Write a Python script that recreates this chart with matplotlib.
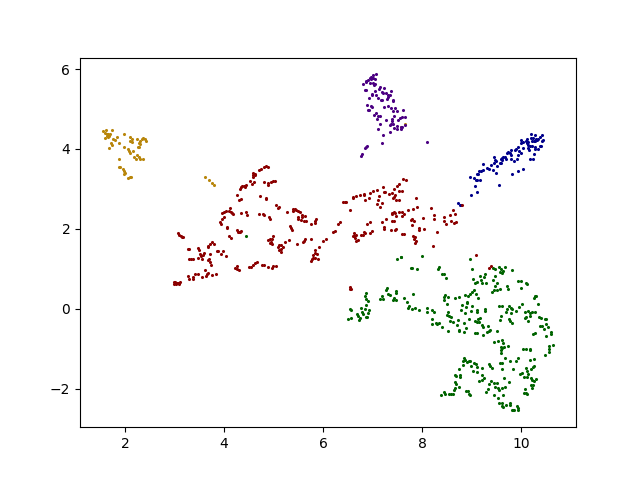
import matplotlib
matplotlib.use('Agg')
import matplotlib.pyplot as plt
import numpy as np

# Cluster colours
GOLD = 'darkgoldenrod'
RED = 'darkred'
GREEN = 'darkgreen'
BLUE = 'darkblue'
PURPLE = 'indigo'

gold_points = [
    (1.56,4.44),(1.62,4.48),(1.74,4.47),(1.60,4.41),(1.63,4.375),(1.66,4.375),(1.70,4.375),(1.64,4.33),
    (1.68,4.33),(1.59,4.275),(1.66,4.29),(1.97,4.37),(2.09,4.29),(2.15,4.26),(2.11,4.21),(2.15,4.17),
    (2.25,4.24),(2.34,4.24),(2.37,4.27),(2.40,4.24),(2.42,4.19),(2.30,4.19),(2.28,4.14),(2.30,4.125),
    (2.26,4.04),(2.29,4.06),(1.83,4.29),(1.75,4.24),(1.80,4.22),(1.71,4.16),(1.73,4.10),(1.87,4.14),
    (1.68,4.02),(1.97,4.04),(2.05,3.99),(2.08,3.94),(2.11,3.89),(2.17,3.94),(2.19,3.81),(2.25,3.84),
    (2.29,3.79),(2.23,3.74),(2.30,3.74),(2.37,3.74),(1.87,3.76),(1.87,3.54),(1.90,3.54),(1.95,3.51),
    (1.97,3.44),(2.00,3.39),(1.97,3.37),(2.09,3.31),(2.13,3.31),(2.05,3.27),
    (3.62,3.29),(3.69,3.22),(3.75,3.14),(3.79,3.09),(7.57,4.54),(7.65,4.62),
]

red_points = [
    (4.84,3.575),(4.80,3.56),(4.88,3.54),(4.755,3.50),(4.71,3.475),(4.59,3.41),(4.62,3.375),(4.58,3.34),
    (4.63,3.36),(4.59,3.31),(4.53,3.20),(4.61,3.17),(4.57,3.125),(4.81,3.17),(4.89,3.16),(4.94,3.175),
    (4.997,3.19),(5.03,3.20),(4.89,3.09),(4.45,3.09),(4.41,3.075),(4.37,3.075),(4.42,3.04),(4.34,3.04),
    (4.32,2.99),(4.27,2.85),(4.30,2.725),(4.34,2.74),(4.73,2.82),(4.85,2.78),(4.85,2.76),(5.05,2.60),
    (5.11,2.56),(5.09,2.53),(5.27,2.425),(5.39,2.51),(5.43,2.49),(5.39,2.46),(5.45,2.475),(5.49,2.46),
    (5.53,2.43),(5.49,2.31),(5.57,2.34),(5.64,2.32),(5.49,2.26),(5.57,2.29),(5.56,2.22),(5.61,2.21),
    (5.66,2.19),(5.76,2.125),(5.86,2.24),(5.84,2.19),(5.83,2.14),(4.13,2.52),(4.11,2.46),(4.14,2.43),
    (4.16,2.39),(4.19,2.375),(4.03,2.46),(3.99,2.42),(3.95,2.39),(4.345,2.39),(4.45,2.425),(4.47,2.34),
    (4.71,2.375),(4.79,2.375),(4.80,2.34),(4.91,2.31),(4.93,2.26),(4.00,2.31),(3.96,2.26),(3.92,2.175),
    (3.94,2.125),(4.06,2.06),(4.06,2.03),(4.26,1.97),(4.28,1.925),(4.32,1.93),(4.34,1.94),(4.30,1.92),
    (4.10,1.825),(4.14,1.77),(5.34,2.075),(5.36,2.025),(5.38,1.98),(3.06,1.90),(3.10,1.86),(3.13,1.82),
    (3.16,1.79),(3.18,1.79),(4.99,1.82),(4.88,1.725),(4.92,1.76),(4.96,1.74),(4.94,1.68),(4.92,1.66),
    (4.96,1.625),(5.12,1.61),(5.16,1.59),(5.10,1.54),(5.19,1.54),(5.16,1.51),(5.12,1.475),(5.15,1.42),
    (5.24,1.675),(5.31,1.725),(5.48,1.62),(5.63,1.76),(5.61,1.70),(5.59,1.67),(5.76,1.74),(5.92,1.54),
    (6.00,1.70),(6.06,1.74),(6.20,1.925),(3.75,1.675),(3.79,1.625),(3.72,1.625),(3.68,1.575),(3.67,1.56),
    (3.28,1.51),(3.29,1.49),(3.48,1.52),(3.50,1.475),(3.60,1.39),(3.57,1.35),(3.51,1.37),(3.53,1.325),
    (3.85,1.46),(3.88,1.46),(3.98,1.44),(3.94,1.38),(3.72,1.37),(4.04,1.32),(3.29,1.25),(3.33,1.26),
    (3.38,1.24),(3.48,1.28),(3.55,1.24),(3.67,1.225),(3.69,1.25),(3.72,1.18),(3.73,1.11),(5.84,1.475),
    (5.83,1.39),(5.88,1.375),(5.80,1.35),(5.79,1.28),(5.78,1.24),(5.76,1.21),(5.83,1.265),(5.89,1.26),
    (4.80,1.11),(4.77,1.11),(4.63,1.16),(4.67,1.175),(4.59,1.10),(4.54,1.06),(4.51,1.04),(4.88,1.06),
    (4.96,1.02),(4.997,1.07),(5.04,1.07),(4.27,1.075),(4.22,1.02),(4.26,1.01),(4.30,0.97),(3.62,0.97),
    (3.68,0.91),(3.66,0.875),(3.63,0.825),(3.75,0.86),(3.83,0.87),(3.41,0.87),(3.48,0.87),(3.28,0.825),
    (3.29,0.76),(3.37,0.81),(3.37,0.76),(3.56,0.79),(3.01,0.68),(3.04,0.66),(3.07,0.66),(3.12,0.67),
    (2.99,0.625),(3.03,0.625),(3.09,0.625),(2.99,0.67),
    # right-hand part of the red cluster
    (7.61,3.24),(7.67,3.22),(7.53,3.12),(7.50,3.07),(7.21,3.04),(7.43,2.99),(7.09,2.97),(7.01,2.94),
    (6.95,2.89),(6.83,2.87),(6.83,2.84),(6.74,2.84),(6.66,2.82),(6.60,2.79),(6.60,2.77),(7.23,2.92),
    (7.26,2.92),(7.33,2.87),(7.39,2.89),(7.13,2.82),(7.53,2.94),(7.59,2.94),(7.46,2.84),(7.43,2.81),
    (7.41,2.78),(6.93,2.77),(6.85,2.72),(7.11,2.72),(7.47,2.72),(7.53,2.72),(7.87,2.77),(7.19,2.64),
    (7.09,2.62),(7.15,2.54),(6.40,2.67),(6.45,2.67),(6.47,2.67),(6.54,2.47),(7.89,2.54),(7.81,2.49),
    (7.71,2.47),(8.18,2.52),(8.62,2.47),(8.66,2.37),(8.56,2.34),(8.44,2.31),(8.24,2.34),(8.24,2.24),
    (8.44,2.21),(8.58,2.21),(8.02,2.27),(7.53,2.43),(7.43,2.43),(7.39,2.41),(7.45,2.39),(7.39,2.37),
    (7.47,2.32),(7.59,2.42),(7.63,2.37),(7.59,2.32),(7.27,2.24),(7.19,2.17),(7.39,2.19),(7.43,2.19),
    (7.79,2.24),(7.77,2.22),(7.83,2.19),(6.95,2.17),(6.89,2.12),(6.34,2.17),(6.30,2.12),(6.24,1.94),
    (7.79,2.09),(7.23,2.04),(7.23,1.99),(7.37,1.97),(7.45,1.97),(7.47,1.99),(7.93,2.02),(7.93,1.97),
    (8.03,1.99),(8.68,2.17),(8.64,2.14),(8.48,2.12),(8.30,1.92),(6.99,1.94),(6.95,1.89),(6.83,1.92),
    (6.85,1.89),(6.62,1.89),(6.60,1.82),(6.66,1.84),(6.64,1.77),(6.66,1.69),(6.70,1.72),(6.62,1.82),
    (6.77,1.84),(6.80,1.84),(7.59,1.87),(7.63,1.88),(7.81,1.82),(7.85,1.79),(7.83,1.74),(7.87,1.69),
    (7.85,1.64),(8.22,1.57),(8.80,2.59),(9.08,1.34),(9.40,1.075),(9.36,1.025),(6.54,0.54),(6.56,0.49),
    (6.55,0.51),
]

purple_points = [
    (7.07,5.87),(7.01,5.84),(6.97,5.81),(6.95,5.78),(7.01,5.78),(7.05,5.74),(6.97,5.74),(6.91,5.73),
    (6.87,5.71),(6.87,5.67),(6.81,5.62),(6.95,5.64),(7.01,5.64),(7.03,5.61),(7.05,5.62),(7.15,5.54),
    (7.13,5.49),(7.23,5.52),(7.37,5.44),(7.05,5.44),(6.87,5.48),(6.84,5.47),(7.19,5.42),(7.21,5.39),
    (7.27,5.39),(7.31,5.34),(7.35,5.34),(6.99,5.37),(6.99,5.34),(7.07,5.34),(7.11,5.27),(6.93,5.27),
    (7.17,5.22),(7.19,5.22),(7.29,5.24),(7.31,5.29),(7.41,5.22),(7.41,5.19),(6.89,5.09),(6.97,5.07),
    (6.99,5.04),(6.91,4.97),(6.93,4.97),(7.23,5.04),(7.31,5.07),(7.37,5.02),(7.45,5.02),(7.41,4.94),
    (7.49,4.94),(7.61,4.97),(7.07,4.89),(7.03,4.84),(7.11,4.82),(7.15,4.82),(7.09,4.74),(7.27,4.72),
    (7.43,4.82),(7.39,4.74),(7.39,4.69),(7.37,4.62),(7.35,4.59),(7.41,4.62),(7.51,4.72),(7.55,4.77),
    (7.59,4.79),(7.65,4.79),(7.15,4.62),(7.43,4.52),(7.49,4.57),(7.49,4.49),(7.57,4.54),(7.59,4.54),
    (7.57,4.49),(7.65,4.59),(7.11,4.49),(7.35,4.42),(7.21,4.34),(7.19,4.14),(6.89,4.07),(6.87,4.04),
    (6.85,4.02),(6.79,3.88),(6.77,3.83),(8.10,4.17),
]

blue_points = [
    (10.21,4.38),(10.29,4.36),(10.43,4.36),(10.39,4.31),(10.35,4.26),(10.31,4.26),(10.25,4.28),(10.21,4.28),
    (10.13,4.26),(10.11,4.21),(9.99,4.22),(10.03,4.18),(9.99,4.14),(10.15,4.18),(10.13,4.14),(10.23,4.21),
    (10.27,4.21),(10.33,4.23),(10.45,4.23),(10.43,4.21),(10.29,4.21),(10.15,4.10),(10.19,4.08),(10.23,4.08),
    (10.15,4.03),(10.17,3.98),(10.29,4.06),(10.29,4.01),(10.35,4.01),(10.39,4.08),(10.41,4.08),(10.03,4.03),
    (9.93,4.06),(9.89,4.01),(9.87,3.98),(9.95,3.96),(9.99,3.91),(9.79,3.98),(9.73,3.93),(9.71,3.91),
    (9.77,3.91),(9.79,3.86),(9.93,3.86),(9.67,3.81),(9.63,3.79),(9.61,3.77),(9.59,3.74),(9.69,3.74),
    (9.61,3.72),(9.79,3.74),(9.85,3.69),(9.91,3.74),(10.27,3.87),(10.19,3.74),(10.25,3.74),(9.45,3.81),
    (9.47,3.72),(9.49,3.69),(9.24,3.62),(9.39,3.59),(9.45,3.64),(9.57,3.64),(9.59,3.64),(9.51,3.57),
    (9.31,3.52),(9.35,3.49),(9.24,3.47),(9.20,3.44),(9.16,3.44),(9.14,3.37),(9.12,3.37),(9.43,3.47),
    (9.49,3.39),(9.81,3.37),(9.93,3.44),(10.03,3.49),(8.96,3.29),(9.04,3.27),(9.08,3.22),(9.10,3.22),
    (9.18,3.22),(9.06,3.07),(9.55,3.09),(9.10,2.92),(8.98,2.84),(8.72,2.64),(8.76,2.61),(8.78,2.59),
]

green_points = [
    (4.45,1.82),
    (7.49,1.24),(7.57,1.31),(7.57,1.29),(7.99,1.32),(7.77,1.02),(7.79,1.02),(7.89,0.99),(7.29,0.52),
    (7.27,0.47),(6.87,0.39),(6.85,0.32),(6.87,0.24),(6.91,0.19),(7.19,0.32),(7.15,0.24),(7.21,0.24),
    (7.31,0.37),(7.35,0.34),(7.47,0.44),(7.47,0.39),(7.43,0.27),(7.41,0.22),(7.47,0.22),(7.81,0.37),
    (7.63,0.27),(7.69,0.17),(7.73,0.07),(7.71,0.02),(7.79,0.0),(7.85,0.02),(7.94,-0.03),(8.10,0.02),
    (8.10,-0.08),(6.77,0.02),(6.87,0.09),(6.85,0.0),(6.54,0.0),(6.56,-0.03),(6.79,-0.08),(6.81,-0.13),
    (6.93,-0.03),(6.91,-0.11),(6.68,-0.13),(6.70,-0.18),(6.74,-0.23),(6.72,-0.28),(6.56,-0.23),(6.50,-0.26),
    (6.87,-0.21),(6.89,-0.21),
    # middle band
    (8.96,1.24),(8.34,1.04),(8.32,0.99),(8.40,0.87),(8.44,0.87),(8.48,0.77),(9.00,0.99),(9.43,1.02),
    (9.47,0.99),(9.55,1.04),(9.59,0.99),(9.57,0.93),(9.61,0.91),(9.67,1.04),(9.63,0.96),(9.81,0.97),
    (9.47,0.82),(9.18,0.82),(9.28,0.87),(9.26,0.79),(9.02,0.74),(9.06,0.64),(9.12,0.67),(9.20,0.72),
    (9.22,0.64),(9.30,0.64),(9.43,0.72),(9.51,0.64),(9.47,0.57),(9.71,0.57),(9.73,0.49),(9.93,0.69),
    (9.99,0.69),(10.09,0.64),(10.13,0.62),(9.99,0.52),(9.57,0.49),(9.51,0.47),(9.45,0.47),(9.41,0.42),
    (8.46,0.34),(8.44,0.29),(8.44,0.22),(8.52,0.29),(8.50,0.12),(8.66,0.27),(8.74,0.29),(8.86,0.34),
    (8.96,0.37),(8.92,0.32),(9.00,0.42),(9.04,0.47),(9.08,0.37),(9.14,0.27),(10.29,0.32),(10.31,0.32),
    (10.27,0.27),(10.35,0.12),(8.80,0.09),(8.90,0.17),(8.90,0.14),(9.00,0.07),(8.88,0.04),(8.78,-0.03),
    (8.86,-0.11),(8.98,-0.06),(9.10,-0.03),(9.12,-0.08),(9.28,0.0),(9.28,-0.06),(9.55,0.07),(9.61,0.07),
    (9.75,0.07),(9.71,0.0),(9.69,-0.08),(9.79,0.02),(9.79,-0.11),(9.81,0.0),(9.89,-0.06),(9.95,0.04),
    (10.01,0.12),(10.07,-0.08),(10.15,-0.06),(10.19,-0.11),(10.23,-0.08),(10.29,-0.08),(10.19,-0.18),(10.11,-0.21),
    (10.07,-0.23),(10.15,-0.31),(9.59,-0.18),(9.57,-0.28),(9.75,-0.26),(9.77,-0.31),(9.81,-0.36),(10.37,-0.21),
    (10.41,-0.23),(10.49,-0.26),(10.51,-0.26),(10.51,-0.38),(10.43,-0.43),(10.39,-0.43),(10.47,-0.51),(10.55,-0.46),
    (10.60,-0.58),(10.60,-0.63),(10.29,-0.61),(10.25,-0.63),(8.20,-0.03),(8.24,-0.08),(8.52,-0.08),(8.50,-0.16),
    (8.54,-0.18),(8.58,-0.21),(8.56,-0.31),(8.62,-0.33),(8.20,-0.26),(8.28,-0.36),(8.20,-0.38),(8.30,-0.38),
    (8.34,-0.36),(8.40,-0.46),(8.52,-0.56),(8.70,-0.41),(8.72,-0.28),(8.94,-0.26),(9.06,-0.31),(9.10,-0.33),
    (9.14,-0.26),(9.18,-0.23),(9.16,-0.33),(9.22,-0.41),(9.24,-0.46),(9.34,-0.43),(8.88,-0.48),(8.84,-0.36),
    (8.74,-0.53),(8.74,-0.56),(8.84,-0.58),(9.06,-0.61),(9.12,-0.61),(9.32,-0.58),(9.36,-0.56),(9.38,-0.53),
    (9.51,-0.56),
    # lower lobe
    (9.24,-0.66),(10.51,-0.675),(9.45,-0.83),(9.53,-0.80),(9.61,-0.77),(9.63,-0.86),(9.59,-0.94),(9.65,-0.96),
    (9.59,-1.02),(9.61,-0.98),(9.73,-0.93),(9.59,-1.11),(10.03,-0.99),(10.09,-0.99),(10.19,-1.01),(10.19,-1.03),
    (10.57,-0.93),(10.64,-0.91),(10.57,-0.99),(10.57,-1.07),(10.49,-1.16),(9.93,-1.23),(9.89,-1.31),(9.77,-1.29),
    (9.67,-1.23),(10.19,-1.28),(10.27,-1.26),(9.57,-1.36),(9.61,-1.36),(9.61,-1.51),(9.35,-1.38),(9.37,-1.43),
    (9.41,-1.48),(9.83,-1.51),(10.27,-1.43),(10.25,-1.46),(10.21,-1.51),(10.11,-1.48),(10.13,-1.56),(10.15,-1.63),
    (10.01,-1.61),(9.97,-1.63),(10.05,-1.71),(10.13,-1.71),(10.21,-1.73),(10.23,-1.78),(10.27,-1.81),(10.31,-1.76),
    (10.21,-1.91),(10.25,-1.91),(10.23,-1.98),(10.07,-2.01),(10.05,-2.11),(10.09,-2.11),(10.13,-2.13),(8.84,-1.23),
    (8.86,-1.28),(8.82,-1.31),(8.94,-1.31),(8.90,-1.33),(8.96,-1.29),(9.04,-1.36),(9.08,-1.38),(9.10,-1.46),
    (8.98,-1.43),(8.82,-1.41),(8.74,-1.51),(9.02,-1.56),(9.12,-1.58),(9.22,-1.48),(9.22,-1.66),(9.26,-1.73),
    (9.22,-1.78),(9.16,-1.81),(9.35,-1.88),(9.39,-1.81),(9.45,-1.86),(9.51,-1.86),(9.47,-1.96),(9.53,-1.98),
    (9.55,-2.03),(9.61,-1.98),(9.67,-1.96),(9.75,-1.83),(9.65,-1.73),(9.33,-2.01),(9.30,-2.08),(9.45,-2.16),
    (9.53,-2.23),(9.63,-2.16),(9.55,-2.36),(9.61,-2.36),(9.61,-2.42),(9.69,-2.41),(9.77,-2.41),(9.77,-2.34),
    (9.63,-2.46),(9.83,-2.53),(9.81,-2.525),(9.85,-2.525),(9.91,-2.43),(9.93,-2.48),(9.93,-2.53),(8.66,-1.66),
    (8.68,-1.68),(8.76,-1.66),(8.76,-1.71),(8.66,-1.83),(8.68,-1.88),(8.74,-1.96),(8.66,-1.98),(8.64,-2.03),
    (8.88,-2.06),(8.92,-2.06),(8.94,-2.13),(8.96,-2.16),(8.44,-2.08),(8.46,-2.13),(8.38,-2.16),(8.54,-2.13),
    (8.58,-2.13),(8.62,-2.13),
]

clusters = [
    (blue_points, BLUE),
    (gold_points, GOLD),
    (purple_points, PURPLE),
    (green_points, GREEN),
    (red_points, RED),
]

fig, ax = plt.subplots(figsize=(6.4, 4.8), dpi=100)

for points, color in clusters:
    xy = np.array(points)
    ax.scatter(xy[:, 0], xy[:, 1], s=1.5, color=color)

ax.set_xlim(1.09, 11.11)
ax.set_ylim(-2.955, 6.285)
ax.set_xticks([2, 4, 6, 8, 10])
ax.set_yticks([-2, 0, 2, 4, 6])

plt.savefig('out.png', dpi=100)
plt.close()
